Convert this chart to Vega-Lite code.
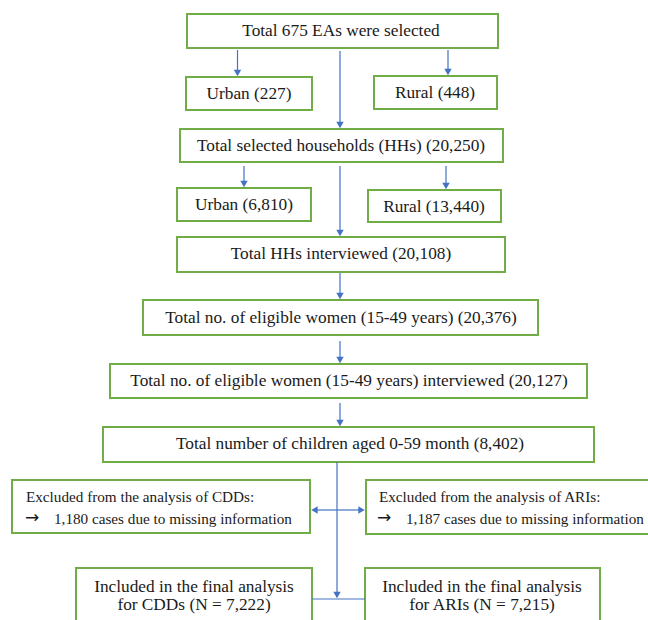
{
  "$schema": "https://vega.github.io/schema/vega-lite/v6.json",
  "width": 648,
  "height": 620,
  "autosize": {"type": "fit", "contains": "padding"},
  "padding": 0,
  "background": "white",
  "config": {"view": {"stroke": null}},
  "datasets": {
    "boxes": [
      {"id": "A", "x": 187, "x2": 498, "y": 14, "y2": 48},
      {"id": "U1", "x": 186, "x2": 312, "y": 77, "y2": 110},
      {"id": "R1", "x": 374, "x2": 497, "y": 76, "y2": 109},
      {"id": "B", "x": 180, "x2": 503, "y": 129, "y2": 162},
      {"id": "U2", "x": 177, "x2": 311, "y": 188, "y2": 221},
      {"id": "R2", "x": 368, "x2": 501, "y": 190, "y2": 222},
      {"id": "C", "x": 177, "x2": 505, "y": 237, "y2": 272},
      {"id": "D", "x": 143, "x2": 538, "y": 300, "y2": 335},
      {"id": "E", "x": 110, "x2": 587, "y": 364, "y2": 398},
      {"id": "F", "x": 103, "x2": 594, "y": 427, "y2": 462},
      {"id": "ExC", "x": 12, "x2": 310, "y": 480, "y2": 533},
      {"id": "ExA", "x": 366, "x2": 660, "y": 480, "y2": 534},
      {"id": "InC", "x": 76, "x2": 312, "y": 568, "y2": 640},
      {"id": "InA", "x": 365, "x2": 600, "y": 568, "y2": 640}
    ],
    "lines": [
      {"x": 237.5, "y": 50, "x2": 237.5, "y2": 72},
      {"x": 448, "y": 50, "x2": 448, "y2": 71},
      {"x": 340, "y": 51, "x2": 340, "y2": 124},
      {"x": 244, "y": 166, "x2": 244, "y2": 183},
      {"x": 446, "y": 166, "x2": 446, "y2": 185},
      {"x": 340, "y": 166, "x2": 340, "y2": 232},
      {"x": 340, "y": 273, "x2": 340, "y2": 295},
      {"x": 340, "y": 341, "x2": 340, "y2": 359},
      {"x": 340, "y": 403, "x2": 340, "y2": 422},
      {"x": 337, "y": 462, "x2": 337, "y2": 594},
      {"x": 312, "y": 599, "x2": 365, "y2": 599},
      {"x": 337, "y": 510, "x2": 316, "y2": 510},
      {"x": 337, "y": 510, "x2": 360, "y2": 510}
    ],
    "heads": [
      {"x": 237.5, "y": 73, "shape": "triangle-down"},
      {"x": 448, "y": 72, "shape": "triangle-down"},
      {"x": 340, "y": 125, "shape": "triangle-down"},
      {"x": 244, "y": 184, "shape": "triangle-down"},
      {"x": 446, "y": 186, "shape": "triangle-down"},
      {"x": 340, "y": 233, "shape": "triangle-down"},
      {"x": 340, "y": 296, "shape": "triangle-down"},
      {"x": 340, "y": 360, "shape": "triangle-down"},
      {"x": 340, "y": 423, "shape": "triangle-down"},
      {"x": 337, "y": 595, "shape": "triangle-down"},
      {"x": 314.5, "y": 510, "shape": "triangle-left"},
      {"x": 361.5, "y": 510, "shape": "triangle-right"}
    ],
    "centerText": [
      {"x": 341, "y": 31, "label": "Total 675 EAs were selected"},
      {"x": 249, "y": 94, "label": "Urban (227)"},
      {"x": 435, "y": 93, "label": "Rural (448)"},
      {"x": 341, "y": 146, "label": "Total selected households (HHs) (20,250)"},
      {"x": 244, "y": 205, "label": "Urban (6,810)"},
      {"x": 434, "y": 207, "label": "Rural (13,440)"},
      {"x": 341, "y": 254, "label": "Total HHs interviewed (20,108)"},
      {"x": 341, "y": 318, "label": "Total no. of eligible women (15-49 years) (20,376)"},
      {"x": 349, "y": 381, "label": "Total no. of eligible women (15-49 years) interviewed (20,127)"},
      {"x": 350, "y": 444, "label": "Total number of children aged 0-59 month (8,402)"},
      {"x": 194, "y": 587, "label": "Included in the final analysis"},
      {"x": 194, "y": 605, "label": "for CDDs (N = 7,222)"},
      {"x": 482, "y": 587, "label": "Included in the final analysis"},
      {"x": 482, "y": 605, "label": "for ARIs (N = 7,215)"}
    ],
    "leftText": [
      {"x": 26, "y": 497, "label": "Excluded from the analysis of CDDs:"},
      {"x": 54, "y": 519, "label": "1,180 cases due to missing information"},
      {"x": 379, "y": 497, "label": "Excluded from the analysis of ARIs:"},
      {"x": 406, "y": 519, "label": "1,187 cases due to missing information"}
    ],
    "arrowText": [
      {"x": 25, "y": 518, "label": "→"},
      {"x": 377, "y": 518, "label": "→"}
    ]
  },
  "layer": [
    {
      "data": {"name": "boxes"},
      "mark": {"type": "rect", "fill": "white", "stroke": "#70AD47", "strokeWidth": 2, "clip": true},
      "encoding": {
        "x": {"field": "x", "type": "quantitative", "scale": {"domain": [0, 648], "nice": false, "zero": false}, "axis": null},
        "x2": {"field": "x2"},
        "y": {"field": "y", "type": "quantitative", "scale": {"domain": [0, 620], "nice": false, "zero": false, "reverse": true}, "axis": null},
        "y2": {"field": "y2"}
      }
    },
    {
      "data": {"name": "lines"},
      "mark": {"type": "rule", "color": "#4472C4", "strokeWidth": 1.2},
      "encoding": {
        "x": {"field": "x", "type": "quantitative"},
        "x2": {"field": "x2"},
        "y": {"field": "y", "type": "quantitative"},
        "y2": {"field": "y2"}
      }
    },
    {
      "data": {"name": "heads"},
      "mark": {"type": "point", "filled": true, "color": "#4472C4", "opacity": 1, "size": 55, "strokeWidth": 0},
      "encoding": {
        "x": {"field": "x", "type": "quantitative"},
        "y": {"field": "y", "type": "quantitative"},
        "shape": {"field": "shape", "type": "nominal", "scale": null, "legend": null}
      }
    },
    {
      "data": {"name": "centerText"},
      "mark": {"type": "text", "font": "Liberation Serif", "fontSize": 17.3, "color": "#1a1a1a", "align": "center", "baseline": "middle"},
      "encoding": {
        "x": {"field": "x", "type": "quantitative"},
        "y": {"field": "y", "type": "quantitative"},
        "text": {"field": "label"}
      }
    },
    {
      "data": {"name": "leftText"},
      "mark": {"type": "text", "font": "Liberation Serif", "fontSize": 15.2, "color": "#1a1a1a", "align": "left", "baseline": "middle"},
      "encoding": {
        "x": {"field": "x", "type": "quantitative"},
        "y": {"field": "y", "type": "quantitative"},
        "text": {"field": "label"}
      }
    },
    {
      "data": {"name": "arrowText"},
      "mark": {"type": "text", "font": "DejaVu Sans", "fontSize": 17, "color": "#1a1a1a", "align": "left", "baseline": "middle"},
      "encoding": {
        "x": {"field": "x", "type": "quantitative"},
        "y": {"field": "y", "type": "quantitative"},
        "text": {"field": "label"}
      }
    }
  ]
}
